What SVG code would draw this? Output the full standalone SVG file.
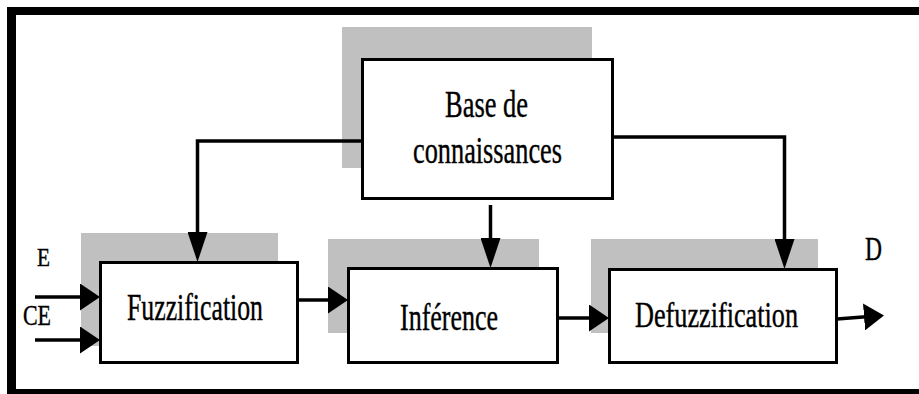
<svg xmlns="http://www.w3.org/2000/svg" width="919" height="394" viewBox="0 0 919 394">
  <style>
    .shadow { fill: #c0c0c0; }
    .box { fill: #ffffff; stroke: #000000; stroke-width: 3; }
    .frame { fill: #000000; }
    .wire { fill: none; stroke: #000000; stroke-width: 3.5; }
    .lbl { font-family: "Liberation Serif", "Times New Roman", serif; fill: #000000; stroke: #000000; stroke-width: 0.4; }
  </style>
  <defs>
    <!-- horizontal arrowhead: short and wide -->
    <marker id="arrH" viewBox="0 0 20 27" refX="12" refY="13.5" markerWidth="20" markerHeight="27" orient="auto" markerUnits="userSpaceOnUse">
      <path d="M0,0 L20,13.5 L0,27 Z" fill="#000000"/>
    </marker>
    <!-- vertical arrowhead: long and narrow -->
    <marker id="arrV" viewBox="0 0 30 20" refX="22" refY="10" markerWidth="30" markerHeight="20" orient="auto" markerUnits="userSpaceOnUse">
      <path d="M0,0 L30,10 L0,20 Z" fill="#000000"/>
    </marker>
  </defs>

  <rect width="919" height="394" fill="#ffffff"/>

  <!-- outer frame -->
  <g id="frame">
    <rect class="frame" x="7" y="7" width="912" height="8"/>
    <rect class="frame" x="7" y="7" width="9" height="387"/>
    <rect class="frame" x="7" y="389" width="912" height="5"/>
  </g>

  <!-- knowledge base -->
  <g id="base">
    <rect class="shadow" x="342" y="27" width="250" height="141"/>
    <rect class="box" x="362.5" y="59.5" width="250" height="139"/>
    <text class="lbl" x="445" y="117" font-size="38" textLength="83" lengthAdjust="spacingAndGlyphs">Base de</text>
    <text class="lbl" x="413" y="163" font-size="38" textLength="149" lengthAdjust="spacingAndGlyphs">connaissances</text>
  </g>

  <!-- fuzzification -->
  <g id="fuzzification">
    <rect class="shadow" x="81" y="233" width="197" height="113"/>
    <rect class="box" x="100.5" y="262.5" width="197" height="100"/>
    <text class="lbl" x="127" y="320" font-size="37" textLength="136" lengthAdjust="spacingAndGlyphs">Fuzzification</text>
  </g>

  <!-- inference -->
  <g id="inference">
    <rect class="shadow" x="328" y="239" width="211" height="94"/>
    <rect class="box" x="348.5" y="268.5" width="209" height="94"/>
    <text class="lbl" x="400" y="330" font-size="38" textLength="98" lengthAdjust="spacingAndGlyphs">Inférence</text>
  </g>

  <!-- defuzzification -->
  <g id="defuzzification">
    <rect class="shadow" x="591" y="239" width="227" height="94"/>
    <rect class="box" x="609.5" y="269.5" width="227" height="93"/>
    <text class="lbl" x="635" y="327" font-size="36" textLength="163" lengthAdjust="spacingAndGlyphs">Defuzzification</text>
  </g>

  <!-- signal labels -->
  <g id="labels">
    <text class="lbl" x="37" y="266" font-size="25" textLength="13" lengthAdjust="spacingAndGlyphs">E</text>
    <text class="lbl" x="23" y="325" font-size="29" textLength="28" lengthAdjust="spacingAndGlyphs">CE</text>
    <text class="lbl" x="865" y="260" font-size="34" textLength="17" lengthAdjust="spacingAndGlyphs">D</text>
  </g>

  <!-- connectors -->
  <g id="connectors">
    <path class="wire" d="M362,141 H197.5 V254" marker-end="url(#arrV)"/>
    <path class="wire" d="M613,137 H784.5 V261" marker-end="url(#arrV)"/>
    <path class="wire" d="M490.5,205 V260" marker-end="url(#arrV)"/>
    <path class="wire" d="M298,300 H340" marker-end="url(#arrH)"/>
    <path class="wire" d="M558,318 H601" marker-end="url(#arrH)"/>
    <path class="wire" d="M35,297 H92" marker-end="url(#arrH)"/>
    <path class="wire" d="M35,340 H92" marker-end="url(#arrH)"/>
    <path class="wire" d="M837,319 L876,316" marker-end="url(#arrH)"/>
  </g>
</svg>
